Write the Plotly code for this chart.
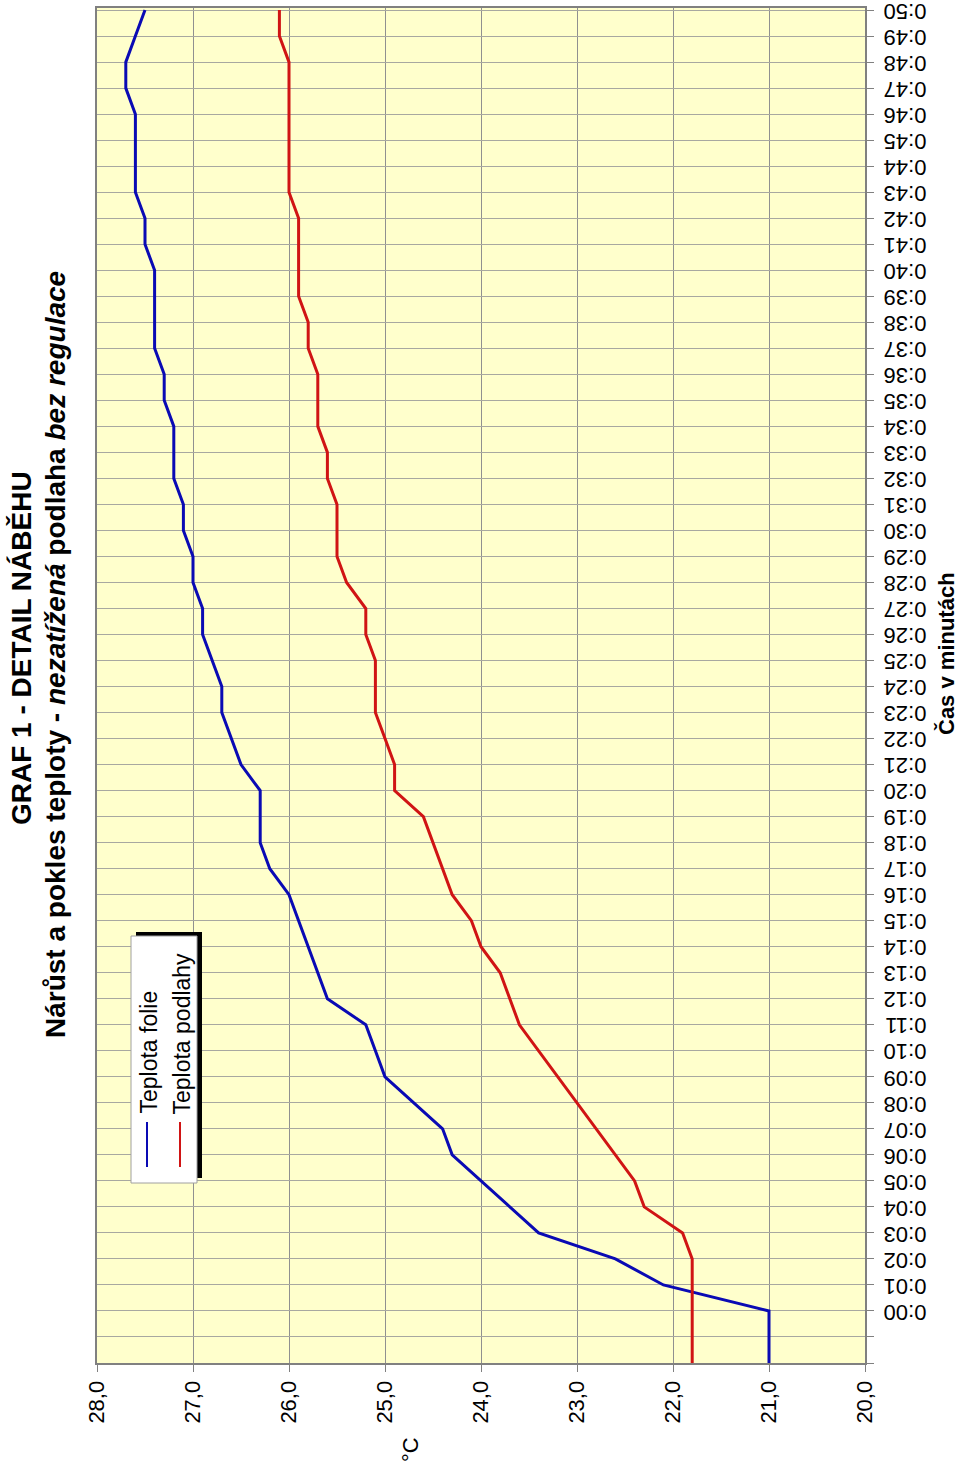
import plotly.graph_objects as go

# ---- data ----
minutes = list(range(-2, 51))
time_labels = ["" if m < 0 else "0:%02d" % m for m in minutes]
temp_ticks = [20, 21, 22, 23, 24, 25, 26, 27, 28]
temp_labels = ["20,0", "21,0", "22,0", "23,0", "24,0", "25,0", "26,0", "27,0", "28,0"]

teplota_folie = [21.0, 21.0, 21.0, 22.1, 22.6, 23.4, 23.7, 24.0, 24.3, 24.4, 24.7, 25.0, 25.1,
                 25.2, 25.6, 25.7, 25.8, 25.9, 26.0, 26.2, 26.3, 26.3, 26.3, 26.5, 26.6, 26.7,
                 26.7, 26.8, 26.9, 26.9, 27.0, 27.0, 27.1, 27.1, 27.2, 27.2, 27.2, 27.3, 27.3,
                 27.4, 27.4, 27.4, 27.4, 27.5, 27.5, 27.6, 27.6, 27.6, 27.6, 27.7, 27.7, 27.6, 27.5]
teplota_podlahy = [21.8, 21.8, 21.8, 21.8, 21.8, 21.9, 22.3, 22.4, 22.6, 22.8, 23.0, 23.2, 23.4,
                   23.6, 23.7, 23.8, 24.0, 24.1, 24.3, 24.4, 24.5, 24.6, 24.9, 24.9, 25.0, 25.1,
                   25.1, 25.1, 25.2, 25.2, 25.4, 25.5, 25.5, 25.5, 25.6, 25.6, 25.7, 25.7, 25.7,
                   25.8, 25.8, 25.9, 25.9, 25.9, 25.9, 26.0, 26.0, 26.0, 26.0, 26.0, 26.0, 26.1, 26.1]

series_names = ["Teplota folie", "Teplota podlahy"]
series_colors = ["#0A0AB4", "#D01414"]

title_text = "<b>GRAF 1 - DETAIL NÁBĚHU</b>"
subtitle_text = "<b>Nárůst a pokles teploty - <i>nezatížená</i> podlaha <i>bez</i> <i>regulace</i></b>"
x_title = "°C"
y_title = "<b>Čas v minutách</b>"

# ---- layout geometry (pixels) ----
W, H = 960, 1466
L, R, T, B = 97, 865, 8, 1363
FONT = "Arial, Liberation Sans, sans-serif"


def px(x):
    return (x - L) / (R - L)


def py(y):
    return (B - y) / (B - T)


fig = go.Figure()
for name, vals, col in zip(series_names, [teplota_folie, teplota_podlahy], series_colors):
    fig.add_trace(go.Scatter(x=vals, y=minutes, mode="lines", name=name,
                             line=dict(color=col, width=3), showlegend=False))

fig.update_layout(
    width=W, height=H,
    margin=dict(l=L, r=W - R, t=T, b=H - B, autoexpand=False),
    paper_bgcolor="white",
    plot_bgcolor="#FFFFCC",
    font=dict(family=FONT, color="black", size=22),
)

fig.update_xaxes(
    range=[28, 20], tickvals=temp_ticks, ticktext=temp_labels, tickangle=-90,
    side="bottom", showgrid=True, gridcolor="#909090", gridwidth=1,
    ticks="outside", ticklen=7, tickcolor="#808080",
    showline=True, linecolor="#808080", linewidth=2, mirror=True,
    zeroline=False, tickfont=dict(size=22),
)
fig.update_yaxes(
    range=[-2, 50.08], tickvals=minutes, ticktext=time_labels, tickangle=180,
    side="right", showgrid=True, gridcolor="#A8A8A0", gridwidth=1,
    ticks="outside", ticklen=7, tickcolor="#808080",
    showline=True, linecolor="#808080", linewidth=2, mirror=True,
    zeroline=False, tickfont=dict(size=22),
    ticklabelstandoff=48, ticklabelshift=8, ticklabeloverflow="allow",
)

ann = []
ann.append(dict(text=title_text, x=px(21), y=py(648), xref="paper", yref="paper",
                textangle=-90, showarrow=False, xanchor="center", yanchor="middle",
                font=dict(size=28, family=FONT)))
ann.append(dict(text=subtitle_text, x=px(55), y=py(655), xref="paper", yref="paper",
                textangle=-90, showarrow=False, xanchor="center", yanchor="middle",
                font=dict(size=28, family=FONT)))
ann.append(dict(text=x_title, x=px(410), y=py(1450), xref="paper", yref="paper",
                textangle=-90, showarrow=False, xanchor="center", yanchor="middle",
                font=dict(size=22, family=FONT)))
ann.append(dict(text=y_title, x=px(946), y=py(654), xref="paper", yref="paper",
                textangle=-90, showarrow=False, xanchor="center", yanchor="middle",
                font=dict(size=22, family=FONT)))

# legend (drawn rotated, like the rest of the chart)
shapes = []
shapes.append(dict(type="rect", xref="paper", yref="paper",
                   x0=px(136), x1=px(202), y0=py(1178), y1=py(932),
                   fillcolor="black", line=dict(width=0)))
shapes.append(dict(type="rect", xref="paper", yref="paper",
                   x0=px(131), x1=px(197), y0=py(1183), y1=py(936),
                   fillcolor="white", line=dict(color="#A0A0A0", width=1)))
for i, (name, col) in enumerate(zip(series_names, series_colors)):
    xc = [147, 180][i]
    shapes.append(dict(type="line", xref="paper", yref="paper",
                       x0=px(xc), x1=px(xc), y0=py(1167), y1=py(1122),
                       line=dict(color=col, width=2)))
    ylen = [125, 163][i]
    ann.append(dict(text=name, x=px(xc + 1), y=py(1115 - ylen / 2), xref="paper", yref="paper",
                    textangle=-90, showarrow=False, xanchor="center", yanchor="middle",
                    font=dict(size=23, family=FONT)))

fig.update_layout(annotations=ann, shapes=shapes)
fig.write_html("out.html", config={"displayModeBar": False},
               post_script="document.body.style.margin='0px';")
